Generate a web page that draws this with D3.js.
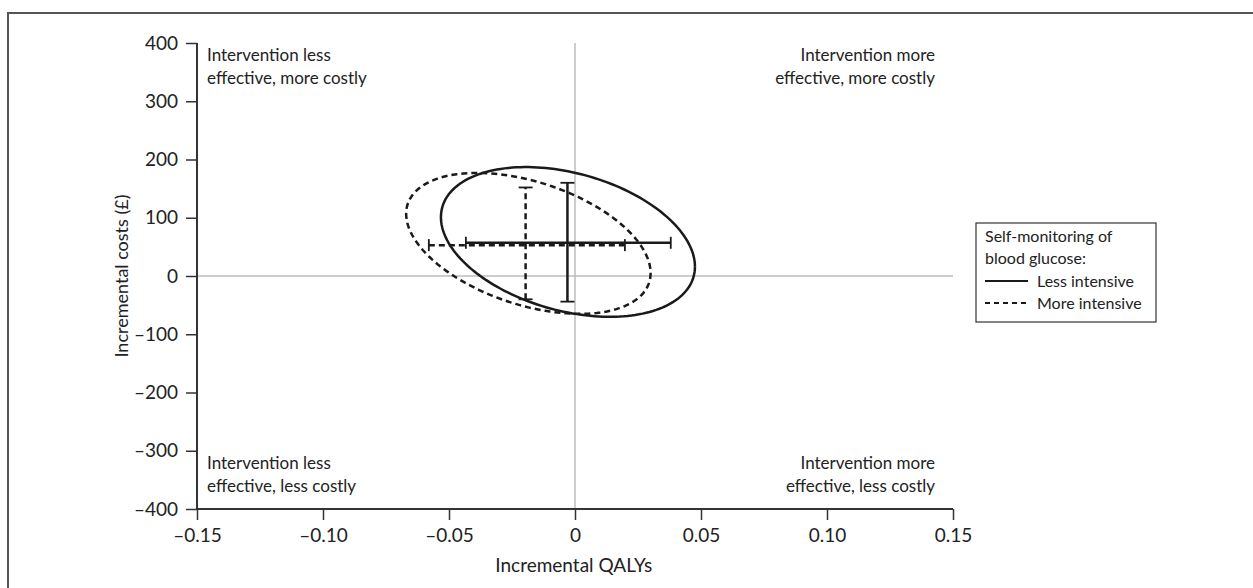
<!DOCTYPE html>
<html>
<head>
<meta charset="utf-8">
<script src="https://cdn.jsdelivr.net/npm/d3@7"></script>
<style>
  body { margin: 0; background: #fff; }
  svg { display: block; font-family: Lato, "Open Sans", sans-serif; }
</style>
</head>
<body>
<script>
// Series names and styles
let seriesNames = ['Less intensive', 'More intensive'];
// Point estimates (QALYs, costs)
let meanQaly = [-0.003, -0.0196];
let meanCost = [57, 53];
// Confidence intervals
let qalyLow = [-0.0433, -0.058];
let qalyHigh = [0.038, 0.0198];
let costLow = [-44, -40];
let costHigh = [160, 152];
// Confidence ellipses: centre, half-spread, correlation
let ellCx = [-0.0028, -0.0185];
let ellCy = [58.5, 56];
let ellSx = [0.0504, 0.0485];
let ellSy = [128.5, 121];
let ellRho = [-0.33, -0.42];

let xTicks = [-0.15, -0.10, -0.05, 0, 0.05, 0.10, 0.15];
let xTickLabels = ['–0.15', '–0.10', '–0.05', '0', '0.05', '0.10', '0.15'];
let yTicks = [400, 300, 200, 100, 0, -100, -200, -300, -400];
let yTickLabels = ['400', '300', '200', '100', '0', '–100', '–200', '–300', '–400'];

let width = 1253, height = 588;
let svg = d3.select('body').append('svg')
  .attr('width', width)
  .attr('height', height);

// outer frame (runs off right and bottom)
svg.append('path')
  .attr('d', 'M8,' + (height + 5) + ' V13 H' + (width + 5))
  .attr('fill', 'none')
  .attr('stroke', '#555')
  .attr('stroke-width', 2);

let x = d3.scaleLinear().domain([-0.15, 0.15]).range([197, 953]);
let y = d3.scaleLinear().domain([-400, 400]).range([509, 43]);

// grey quadrant lines
svg.append('line')
  .attr('x1', x(0)).attr('x2', x(0))
  .attr('y1', y(400)).attr('y2', y(-400))
  .attr('stroke', '#bdbdbd').attr('stroke-width', 1.5);
svg.append('line')
  .attr('x1', x(-0.15)).attr('x2', x(0.15))
  .attr('y1', y(0)).attr('y2', y(0))
  .attr('stroke', '#bdbdbd').attr('stroke-width', 1.5);

// axes
let xAxis = d3.axisBottom(x).tickValues(xTicks)
  .tickFormat((d, i) => xTickLabels[i]).tickSize(11).tickPadding(9);
let yAxis = d3.axisLeft(y).tickValues(yTicks)
  .tickFormat((d, i) => yTickLabels[i]).tickSize(11).tickPadding(8);

let gx = svg.append('g').attr('transform', 'translate(0,' + y(-400) + ')').call(xAxis);
let gy = svg.append('g').attr('transform', 'translate(' + x(-0.15) + ',0)').call(yAxis);
[gx, gy].forEach(g => {
  g.select('.domain').attr('stroke', '#333').attr('stroke-width', 2);
  g.selectAll('.tick line').attr('stroke', '#333').attr('stroke-width', 1.5);
  g.selectAll('.tick text')
    .attr('fill', '#222')
    .attr('font-size', '19px')
    .attr('font-family', 'Lato, "Open Sans", sans-serif');
});
gx.select('.domain').attr('d', 'M' + x(-0.15) + ',0H' + x(0.15));
gy.select('.domain').attr('d', 'M0,' + y(400) + 'V' + y(-400));

// axis titles
svg.append('text')
  .attr('x', x(-0.0005)).attr('y', 572)
  .attr('text-anchor', 'middle')
  .attr('font-size', '19px').attr('fill', '#222')
  .text('Incremental QALYs');
svg.append('text')
  .attr('transform', 'translate(128,' + y(0) + ') rotate(-90)')
  .attr('text-anchor', 'middle')
  .attr('font-size', '18px').attr('fill', '#222')
  .text('Incremental costs (£)');

// quadrant labels
let quad = [
  { lines: ['Intervention less', 'effective, more costly'], x: 207, y: 61, anchor: 'start' },
  { lines: ['Intervention more', 'effective, more costly'], x: 935, y: 61, anchor: 'end' },
  { lines: ['Intervention less', 'effective, less costly'], x: 207, y: 469, anchor: 'start' },
  { lines: ['Intervention more', 'effective, less costly'], x: 935, y: 469, anchor: 'end' }
];
quad.forEach(q => {
  let t = svg.append('text')
    .attr('x', q.x).attr('y', q.y)
    .attr('text-anchor', q.anchor)
    .attr('font-size', '17px').attr('fill', '#222');
  q.lines.forEach((l, i) => {
    t.append('tspan').attr('x', q.x).attr('dy', i === 0 ? 0 : 23).text(l);
  });
});

let dashes = [null, '6,4'];

// ellipses
let line = d3.line().x(d => x(d[0])).y(d => y(d[1]));
seriesNames.forEach((s, i) => {
  let phi = Math.acos(ellRho[i]);
  let pts = d3.range(0, 361, 2).map(a => {
    let t = a * Math.PI / 180;
    return [ellCx[i] + ellSx[i] * Math.cos(t), ellCy[i] + ellSy[i] * Math.cos(t + phi)];
  });
  svg.append('path')
    .attr('d', line(pts))
    .attr('fill', 'none')
    .attr('stroke', '#1a1a1a')
    .attr('stroke-width', 2.5)
    .attr('stroke-dasharray', dashes[i]);
});

// error bars
seriesNames.forEach((s, i) => {
  let g = svg.append('g')
    .attr('stroke', '#1a1a1a')
    .attr('stroke-width', 2.5)
    .attr('fill', 'none');
  g.append('line')
    .attr('x1', x(qalyLow[i])).attr('x2', x(qalyHigh[i]))
    .attr('y1', y(meanCost[i])).attr('y2', y(meanCost[i]))
    .attr('stroke-dasharray', dashes[i]);
  g.append('line')
    .attr('x1', x(meanQaly[i])).attr('x2', x(meanQaly[i]))
    .attr('y1', y(costLow[i])).attr('y2', y(costHigh[i]))
    .attr('stroke-dasharray', dashes[i]);
  // caps
  [qalyLow[i], qalyHigh[i]].forEach(v => {
    g.append('line')
      .attr('x1', x(v)).attr('x2', x(v))
      .attr('y1', y(meanCost[i]) - 6).attr('y2', y(meanCost[i]) + 6)
      .attr('stroke-width', 1.8);
  });
  [costLow[i], costHigh[i]].forEach(v => {
    g.append('line')
      .attr('x1', x(meanQaly[i]) - 7).attr('x2', x(meanQaly[i]) + 7)
      .attr('y1', y(v)).attr('y2', y(v))
      .attr('stroke-width', 1.8);
  });
});

// legend
let lg = svg.append('g').attr('transform', 'translate(976,223)');
lg.append('rect')
  .attr('width', 180).attr('height', 99)
  .attr('fill', '#fff').attr('stroke', '#333').attr('stroke-width', 1.2);
let legendTitle = ['Self-monitoring of', 'blood glucose:'];
legendTitle.forEach((l, i) => {
  lg.append('text')
    .attr('x', 9).attr('y', 19 + i * 22)
    .attr('font-size', '16px').attr('fill', '#222')
    .text(l);
});
seriesNames.forEach((s, i) => {
  let yy = 58 + i * 22;
  lg.append('line')
    .attr('x1', 9).attr('x2', 52)
    .attr('y1', yy).attr('y2', yy)
    .attr('stroke', '#1a1a1a').attr('stroke-width', 2)
    .attr('stroke-dasharray', dashes[i] ? '5,4' : null);
  lg.append('text')
    .attr('x', 61).attr('y', yy + 6)
    .attr('font-size', '16px').attr('fill', '#222')
    .text(s);
});
</script>
</body>
</html>
